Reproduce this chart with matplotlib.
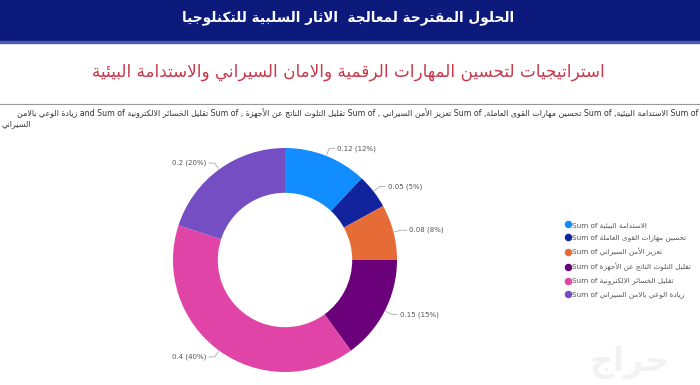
import matplotlib
matplotlib.use("Agg")
import matplotlib.pyplot as plt
from matplotlib.lines import Line2D
from matplotlib.patches import Rectangle
import numpy as np

# data
categories = ["الاستدامة البيئية", "تحسين مهارات القوى العاملة", "تعزيز الأمن السيراني",
              "تقليل التلوث الناتج عن الأجهزة", "تقليل الخسائر الالكترونية", "زيادة الوعي بالامن السيراني"]
values = [0.12, 0.05, 0.08, 0.15, 0.4, 0.2]
colors = ["#118DFF", "#12239E", "#E66C37", "#6B007B", "#E044A7", "#744EC2"]

title = "الحلول المقترحة لمعالجة  الاثار السلبية للتكنلوجيا"
subtitle = "استراتيجيات لتحسين المهارات الرقمية والامان السيراني والاستدامة البيئية"

# --- tiny arabic shaper (matplotlib has no RTL shaping) ---
_order = [("ء",1),("آ",2),("أ",2),("ؤ",2),("إ",2),("ئ",4),("ا",2),("ب",4),("ة",2),("ت",4),
          ("ث",4),("ج",4),("ح",4),("خ",4),("د",2),("ذ",2),("ر",2),("ز",2),("س",4),("ش",4),
          ("ص",4),("ض",4),("ط",4),("ظ",4),("ع",4),("غ",4),("ف",4),("ق",4),("ك",4),("ل",4),
          ("م",4),("ن",4),("ه",4),("و",2),("ى",2),("ي",4)]
FORMS = {}
cp = 0xFE80
for ch, n in _order:
	FORMS[ch] = [chr(cp + k) for k in range(n)]
	cp += n
LAMALEF = {"آ": ["\uFEF5","\uFEF6"], "أ": ["\uFEF7","\uFEF8"],
           "إ": ["\uFEF9","\uFEFA"], "ا": ["\uFEFB","\uFEFC"]}

def shape(s):
	units = []
	i = 0
	while i < len(s):
		if s[i] == "ل" and i+1 < len(s) and s[i+1] in LAMALEF:
			units.append(LAMALEF[s[i+1]])
			i += 2
		elif s[i] in FORMS:
			units.append(FORMS[s[i]])
			i += 1
		else:
			units.append(s[i])
			i += 1
	out = []
	for j, u in enumerate(units):
		if isinstance(u, str):
			out.append(u)
			continue
		prev = units[j-1] if j > 0 else None
		nxt = units[j+1] if j+1 < len(units) else None
		jp = isinstance(prev, list) and len(prev) == 4 and len(u) >= 2
		jn = len(u) == 4 and isinstance(nxt, list) and len(nxt) >= 2
		if jp and jn:
			out.append(u[3])
		elif jp:
			out.append(u[1])
		elif jn:
			out.append(u[2])
		else:
			out.append(u[0])
	return "".join(out)[::-1]

A = shape

W, H = 700, 385
fig = plt.figure(figsize=(7, 3.85), dpi=100)
fig.patch.set_facecolor("white")

bg = fig.add_axes([0, 0, 1, 1])
bg.set_xlim(0, W)
bg.set_ylim(H, 0)
bg.axis("off")

# header bar
bg.add_patch(Rectangle((0, 0), W, 41, color="#0c1a7c", zorder=0))
bg.add_patch(Rectangle((0, 41), W, 2, color="#4a5bb0", zorder=0))
bg.text(W/2 - 2, 18, A(title), color="white", fontsize=9.8, fontweight="bold",
        ha="center", va="center", family="DejaVu Sans")

bg.text(W/2 - 2, 72, A(subtitle), color="#c8374a", fontsize=12.1,
        ha="center", va="center", family="DejaVu Sans")

bg.plot([0, W], [104, 104], color="#9a9a9a", lw=0.8)

# chart header text (visual order)
line1 = (A("زيادة الوعي بالامن") + " and Sum of " + A(categories[4]) + " Sum of , " +
         A(categories[3]) + " Sum of , " + A(categories[2]) + " Sum of ," +
         A(categories[1]) + " Sum of ," + A(categories[0]) + " Sum of")
bg.text(W - 2, 113, line1, fontsize=5.7, color="#333333", ha="right", va="center")
bg.text(2, 124, A("السيراني"), fontsize=5.7, color="#333333", ha="left", va="center")

# donut
cx, cy, R = 285, 260, 98
half = 140
ax = fig.add_axes([(cx-half)/W, (H-cy-half)/H, 2*half/W, 2*half/H])
lim = half / R
ax.set_xlim(-lim, lim)
ax.set_ylim(-lim, lim)
ax.set_aspect("equal")
ax.axis("off")
wedges, _ = ax.pie(values, colors=colors, startangle=90, counterclock=False,
                   radius=1.0, wedgeprops=dict(width=0.4, edgecolor="none"))

for w, v in zip(wedges, values):
	ang = np.deg2rad((w.theta1 + w.theta2) / 2)
	c, s = np.cos(ang), np.sin(ang)
	side = 1 if c >= 0 else -1
	x1, y1 = 1.01*c, 1.01*s
	x2, y2 = 1.07*c, 1.07*s
	x3 = x2 + side*0.05
	ax.plot([x1, x2, x3], [y1, y2, y2], color="#aaaaaa", lw=0.6)
	ax.text(x3 + side*0.02, y2, "%g (%d%%)" % (v, round(v*100)), fontsize=5,
	        color="#555555", ha="left" if side > 0 else "right", va="center")

handles = [Line2D([], [], marker="o", ls="none", color=c, markersize=4.4) for c in colors]
labels = ["Sum of " + A(c) for c in categories]
fig.legend(handles, labels, loc="upper left", bbox_to_anchor=(563/W, 1 - 219/H),
           frameon=False, fontsize=5.2, labelspacing=0.9, handlelength=0.6,
           handletextpad=0.3, labelcolor="#555555", borderaxespad=0)

# faint watermark
bg.text(630, 362, A("حراج"), fontsize=24, color="#f2f2f2", ha="center", va="center",
        fontweight="bold")

fig.savefig("out.png", dpi=100, facecolor="white")
